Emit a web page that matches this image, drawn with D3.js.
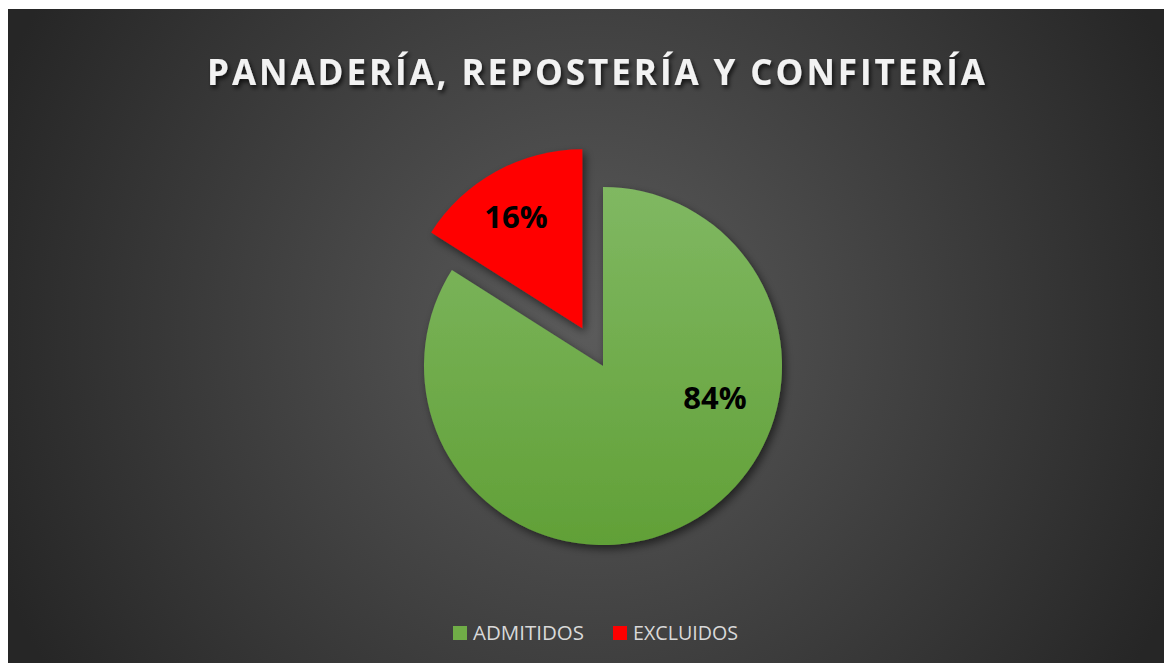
<!DOCTYPE html>
<html><head><meta charset="utf-8">
<script src="https://cdn.jsdelivr.net/npm/d3@7"></script>
<style>html,body{margin:0;padding:0;background:#fff;}svg{display:block;}</style>
</head><body>
<svg id="c" width="1164" height="663"></svg>
<script>
const title = "PANADERÍA, REPOSTERÍA Y CONFITERÍA";
const categories = ["ADMITIDOS", "EXCLUIDOS"];
const values = [84, 16];
const colors = ["#70ad47", "#ff0000"];
const exploded = [0, 43];

const svg = d3.select("#c");
const defs = svg.append("defs");
const bg = defs.append("radialGradient").attr("id","bg").attr("gradientUnits","userSpaceOnUse")
  .attr("cx",590).attr("cy",330).attr("r",640);
bg.append("stop").attr("offset","0%").attr("stop-color","#5b5b5b");
bg.append("stop").attr("offset","100%").attr("stop-color","#262626");
const gg = defs.append("linearGradient").attr("id","gr").attr("x1",0).attr("y1",0).attr("x2",0).attr("y2",1);
gg.append("stop").attr("offset","0%").attr("stop-color","#80b862");
gg.append("stop").attr("offset","100%").attr("stop-color","#61a037");
const f = defs.append("filter").attr("id","sh").attr("x","-20%").attr("y","-20%").attr("width","140%").attr("height","140%");
f.append("feDropShadow").attr("dx",3).attr("dy",4).attr("stdDeviation",4).attr("flood-color","#000").attr("flood-opacity",0.55);
const ft = defs.append("filter").attr("id","tsh").attr("x","-10%").attr("y","-30%").attr("width","120%").attr("height","160%");
ft.append("feDropShadow").attr("dx",2).attr("dy",3).attr("stdDeviation",2).attr("flood-color","#000").attr("flood-opacity",0.7);

svg.append("rect").attr("x",8).attr("y",9).attr("width",1156).attr("height",654).attr("fill","url(#bg)");

svg.append("text").attr("x",596).attr("y",85).attr("text-anchor","middle")
  .attr("font-family","Open Sans").attr("font-weight",700).attr("font-size",35)
  .attr("fill","#f2f2f2").attr("textLength",778).attr("lengthAdjust","spacing")
  .attr("filter","url(#tsh)").text(title);

const cx = 603, cy = 366, r = 179;
const pie = d3.pie().sort(null).value(d=>d)(values);
const arc = d3.arc().innerRadius(0).outerRadius(r);
const g = svg.append("g").attr("transform",`translate(${cx},${cy})`);
pie.forEach((p,i)=>{
  const mid = (p.startAngle+p.endAngle)/2;
  const ox = Math.sin(mid)*exploded[i], oy = -Math.cos(mid)*exploded[i];
  const sg = g.append("g").attr("transform",`translate(${ox},${oy})`);
  sg.append("path").attr("d",arc(p)).attr("fill", i===0?"url(#gr)":colors[i]).attr("filter","url(#sh)");
});
const labelPos = [[112,43],[-87,-138]];
pie.forEach((p,i)=>{
  g.append("text").attr("x",labelPos[i][0]).attr("y",labelPos[i][1]).attr("text-anchor","middle")
   .attr("font-family","Open Sans").attr("font-weight",700).attr("font-size",31).attr("fill","#000")
   .text(Math.round(values[i]/d3.sum(values)*100)+"%");
});

const leg = [{x:453,tx:473,w:111},{x:613,tx:633,w:105}];
categories.forEach((c,i)=>{
  svg.append("rect").attr("x",leg[i].x).attr("y",626).attr("width",14).attr("height",14).attr("fill",colors[i]);
  svg.append("text").attr("x",leg[i].tx).attr("y",640).attr("font-family","Open Sans").attr("font-size",19.5)
    .attr("textLength",leg[i].w).attr("lengthAdjust","spacingAndGlyphs")
    .attr("fill","#d9d9d9").text(c);
});
</script>
</body></html>
